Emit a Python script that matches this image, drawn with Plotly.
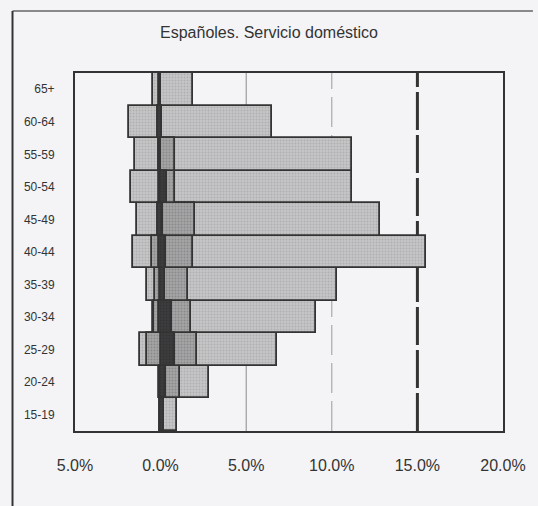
import plotly.graph_objects as go

ages = ["15-19", "20-24", "25-29", "30-34", "35-39", "40-44", "45-49", "50-54", "55-59", "60-64", "65+"]

# widest (light) series: left and right ends, %
a_left = [0.0, -0.1, -1.2, -0.45, -0.8, -1.6, -1.4, -1.75, -1.5, -1.85, -0.45]
a_right = [0.95, 2.8, 6.8, 9.1, 10.3, 15.5, 12.8, 11.2, 11.2, 6.5, 1.9]
# middle (medium) series
b_left = [-0.05, -0.05, -0.8, -0.4, -0.3, -0.5, -0.15, -0.1, -0.1, -0.15, -0.1]
b_right = [0.2, 1.15, 2.1, 1.8, 1.6, 1.9, 2.0, 0.85, 0.85, 0.1, 0.0]
# narrow (dark) series
c_left = [-0.05, -0.05, 0.0, -0.1, -0.05, -0.1, -0.15, -0.05, -0.1, -0.15, -0.05]
c_right = [0.2, 0.3, 0.85, 0.65, 0.25, 0.3, 0.15, 0.35, 0.05, 0.1, 0.05]

x_ticks = [-5, 0, 5, 10, 15, 20]
x_tick_labels = ["5.0%", "0.0%", "5.0%", "10.0%", "15.0%", "20.0%"]

bg = "#f4f4f6"
edge = "#333333"

fig = go.Figure()

series = [
    (a_left, a_right, "#c6c6c8", "#969698"),
    (b_left, b_right, "#a4a4a6", "#707072"),
    (c_left, c_right, "#3c3c3e", "#2a2a2a"),
]
for left, right, fill, fg in series:
    fig.add_trace(go.Bar(
        y=ages,
        x=[r - l for l, r in zip(left, right)],
        base=left,
        orientation="h",
        marker=dict(color=fill, line=dict(color=edge, width=1.8),
                    pattern=dict(shape=".", fgcolor=fg, size=3, solidity=0.35)),
        showlegend=False,
        hoverinfo="skip",
    ))

# reference lines
fig.add_vline(x=5, line=dict(color="#8a8a8a", width=1), layer="below")
fig.add_vline(x=10, line=dict(color="#9a9a9a", width=1, dash="30px,8px"), layer="below")
fig.add_vline(x=15, line=dict(color="#333333", width=3, dash="38px,5px"), layer="below")

# outer frame lines
fig.add_shape(type="line", xref="paper", yref="paper", x0=-0.146, x1=1.07, y0=1.173, y1=1.173,
              line=dict(color="#666666", width=1.5))
fig.add_shape(type="line", xref="paper", yref="paper", x0=-0.146, x1=-0.146, y0=1.173, y1=-0.21,
              line=dict(color="#333333", width=2))

fig.update_layout(
    width=538, height=506,
    margin=dict(l=75, r=26, t=73, b=75),
    paper_bgcolor=bg, plot_bgcolor=bg,
    barmode="overlay", bargap=0.0,
    font=dict(family="Arial, Liberation Sans, sans-serif", color="#333333"),
    title=dict(text="Españoles. Servicio doméstico", x=0.5, xanchor="center",
               y=0.935, yanchor="middle", font=dict(size=16, color="#333333")),
    xaxis=dict(range=[-5, 20], tickvals=x_ticks, ticktext=x_tick_labels,
               showgrid=False, zeroline=False, showline=True, mirror=True,
               linecolor=edge, linewidth=2, ticks="", ticklabelstandoff=19,
               tickfont=dict(size=16, color="#333333")),
    yaxis=dict(range=[-0.5, 10.5], showgrid=False, zeroline=False, showline=True, mirror=True,
               linecolor=edge, linewidth=2, ticks="", ticklabelstandoff=16,
               tickfont=dict(size=12, color="#333333")),
)

fig.write_html("out.html", config={"displayModeBar": False},
               post_script="document.body.style.margin='0';document.body.style.background='#f4f4f6';")
